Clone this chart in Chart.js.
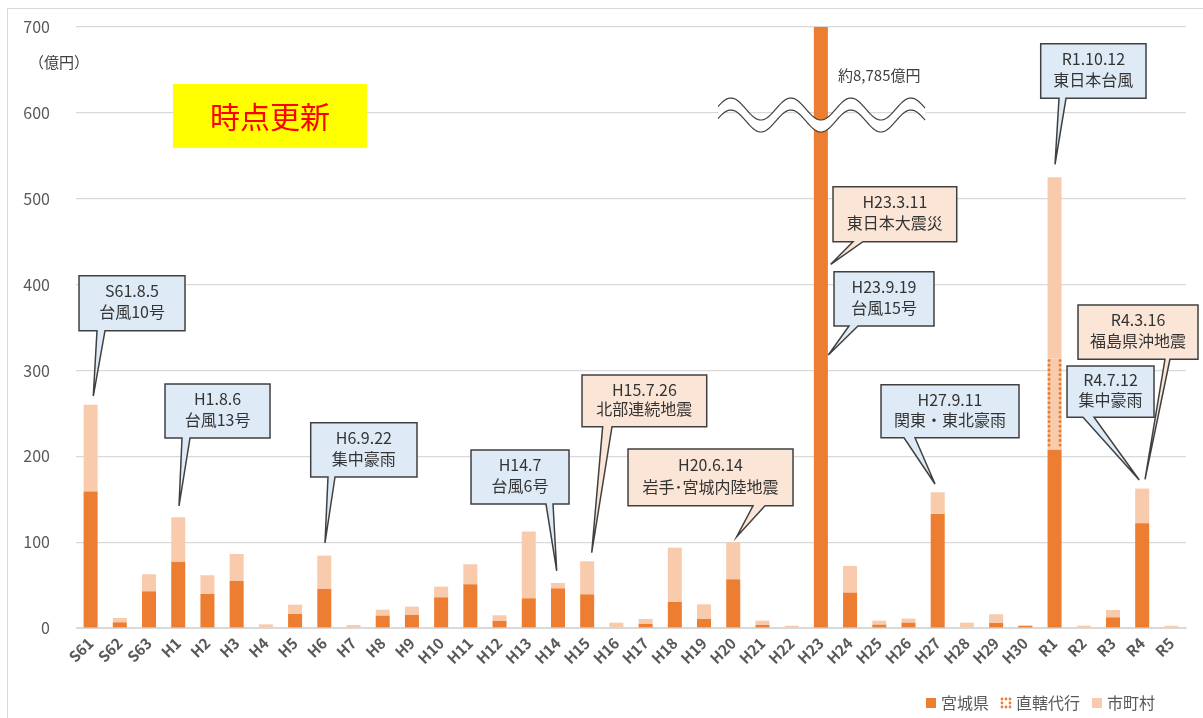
<!DOCTYPE html>
<html lang="ja">
<head>
<meta charset="utf-8">
<title>災害復旧事業費の推移</title>
<script src="https://cdn.jsdelivr.net/npm/chart.js@4.4.1/dist/chart.umd.min.js"></script>
<style>
  html, body { margin: 0; padding: 0; background: #fff; }
  #wrap { position: relative; width: 1203px; height: 718px; }
</style>
</head>
<body>
<div id="wrap"><canvas id="myChart"></canvas></div>
<script>
// 年度
const nendo = ["S61", "S62", "S63",
  "H1", "H2", "H3", "H4", "H5", "H6", "H7", "H8", "H9", "H10",
  "H11", "H12", "H13", "H14", "H15", "H16", "H17", "H18", "H19", "H20",
  "H21", "H22", "H23", "H24", "H25", "H26", "H27", "H28", "H29", "H30",
  "R1", "R2", "R3", "R4", "R5"]

// 被害額（億円）
const miyagi = [159, 6.6, 42.7,
  77.3, 39.6, 54.8, 0, 16.3, 45.5, 0, 14.4, 15.2, 35.7,
  50.9, 8.2, 34.6, 46.2, 39.2, 0, 4.7, 30.3, 10.5, 56.7,
  3.5, 0, 8785, 41.2, 3.9, 6.2, 132.9, 0, 5.8, 2.7,
  207.5, 0, 12.4, 122, 0]
const chokkatsu = [0, 0, 0,
  0, 0, 0, 0, 0, 0, 0, 0, 0, 0,
  0, 0, 0, 0, 0, 0, 0, 0, 0, 0,
  0, 0, 0, 0, 0, 0, 0, 0, 0, 0,
  106.5, 0, 0, 0, 0]
const shichoson = [101, 5.1, 19.9,
  51.7, 21.8, 31.4, 4.3, 10.9, 38.8, 3.5, 7, 9.7, 12.5,
  23.3, 6.6, 77.7, 6.2, 38.5, 6.2, 5.8, 63.3, 17.1, 43.2,
  5.1, 2.7, 0, 31.1, 4.7, 4.7, 25.2, 6.2, 10.2, 0,
  211, 2.7, 8.6, 40.4, 2.5]

const yTicks = [0, 100, 200, 300, 400, 500, 600, 700]

// 吹き出し（x は年度の位置、y は億円の目盛で指定）
const callouts = [
  { lines: ["S61.8.5", "台風10号"], fill: "#DEEBF7", box: [-0.397, 3.232, 410.3, 346.3], base: [0.219, 0.493], tip: [0.092, 270.2] },
  { lines: ["H1.8.6", "台風13号"], fill: "#DEEBF7", box: [2.547, 6.142, 284.2, 221.3], base: [3.129, 3.403], tip: [3.026, 142.1] },
  { lines: ["H6.9.22", "集中豪雨"], fill: "#DEEBF7", box: [7.535, 11.174, 239.1, 175.9], base: [8.127, 8.367], tip: [8.024, 99.0] },
  { lines: ["H14.7", "台風6号"], fill: "#DEEBF7", box: [13.023, 16.378, 207.3, 144.4], base: [15.59, 15.83], tip: [15.957, 66.4] },
  { lines: ["H15.7.26", "北部連続地震"], fill: "#FBE5D6", box: [16.823, 21.092, 294.7, 234.5], base: [17.53, 17.85], tip: [17.155, 87.7] },
  { lines: ["H20.6.14", "岩手･宮城内陸地震"], fill: "#FBE5D6", box: [18.398, 24.047, 208.5, 142.4], base: [22.677, 23.088], tip: [22.119, 106.3] },
  { lines: ["H23.3.11", "東日本大震災"], fill: "#FBE5D6", box: [25.416, 29.651, 514.0, 449.9], base: [26.1, 26.44], tip: [25.337, 423.6] },
  { lines: ["H23.9.19", "台風15号"], fill: "#DEEBF7", box: [25.45, 28.873, 415.0, 351.7], base: [25.963, 26.271], tip: [25.255, 318.0] },
  { lines: ["H27.9.11", "関東・東北豪雨"], fill: "#DEEBF7", box: [27.059, 31.783, 283.4, 221.6], base: [27.846, 28.223], tip: [28.908, 167.7] },
  { lines: ["R1.10.12", "東日本台風"], fill: "#DEEBF7", box: [32.526, 36.131, 680.5, 616.9], base: [33.153, 33.392], tip: [33.016, 540.1] },
  { lines: ["R4.3.16", "福島県沖地震"], fill: "#FBE5D6", box: [33.803, 37.911, 376.2, 313.0], base: [36.78, 36.95], tip: [36.097, 173.2] },
  { lines: ["R4.7.12", "集中豪雨"], fill: "#DEEBF7", box: [33.427, 36.405, 305.1, 245.4], base: [33.974, 34.351], tip: [35.9, 172.4] }
]

const DARK = "#ED7D31"
const LIGHT = "#F8CBAD"
const FONT = "'Noto Sans CJK JP', 'Noto Sans', sans-serif"

//直轄代行の点線（バーの左右の縁）
const dottedEdges = {
  id: 'dottedEdges',
  afterDatasetsDraw(chart) {
    const ctx = chart.ctx
    const meta = chart.getDatasetMeta(1)
    ctx.save()
    ctx.strokeStyle = DARK
    ctx.lineWidth = 3
    ctx.lineCap = 'round'
    ctx.setLineDash([0.1, 4.6])
    meta.data.forEach(el => {
      const p = el.getProps(['x', 'y', 'base', 'width'], true)
      if (Math.abs(p.base - p.y) < 1) return
      const l = p.x - p.width / 2 + 1.5, r = p.x + p.width / 2 - 1.5
      ctx.beginPath()
      ctx.moveTo(l, p.y + 2); ctx.lineTo(l, p.base - 2)
      ctx.moveTo(r, p.y + 2); ctx.lineTo(r, p.base - 2)
      ctx.stroke()
    })
    ctx.restore()
  }
}

//吹き出し、注記、凡例
const notes = {
  id: 'notes',
  beforeDraw(chart) {
    const ctx = chart.ctx
    ctx.save()
    ctx.strokeStyle = '#d9d9d9'
    ctx.lineWidth = 1
    ctx.strokeRect(7.5, 8.5, 1210, 720)
    ctx.restore()
  },
  afterDatasetsDraw(chart) {
    const ctx = chart.ctx
    const x = chart.scales.x, y = chart.scales.y
    const area = chart.chartArea
    ctx.save()

    // 波線（H23の省略）
    const x0 = x.getPixelForValue(21.48), x1 = x.getPixelForValue(28.6)
    const xc = x.getPixelForValue(25), cy = y.getPixelForValue(597.5)
    const wave = (px, off) => cy + off + 11 * Math.cos(2 * Math.PI * (px - xc) / 60)
    ctx.beginPath()
    for (let px = x0; px <= x1; px += 1) ctx.lineTo(px, wave(px, -6))
    for (let px = x1; px >= x0; px -= 1) ctx.lineTo(px, wave(px, 6))
    ctx.closePath()
    ctx.fillStyle = '#fff'
    ctx.fill()
    ctx.strokeStyle = '#404040'
    ctx.lineWidth = 1.2
    ;[-6, 6].forEach(off => {
      ctx.beginPath()
      for (let px = x0; px <= x1; px += 1) ctx.lineTo(px, wave(px, off))
      ctx.stroke()
    })

    ctx.fillStyle = '#404040'
    ctx.font = '15px ' + FONT
    ctx.textAlign = 'left'
    ctx.textBaseline = 'middle'
    ctx.fillText('約8,785億円', x.getPixelForValue(25.587), y.getPixelForValue(644))

    // 単位
    ctx.fillStyle = '#404040'
    ctx.font = '15px ' + FONT
    ctx.fillText('（億円）', area.left - 47, y.getPixelForValue(659))

    // 時点更新
    const yl = x.getPixelForValue(2.82), yr = x.getPixelForValue(9.46)
    const yt = y.getPixelForValue(633.6), yb = y.getPixelForValue(559)
    ctx.fillStyle = '#FFFF00'
    ctx.fillRect(yl, yt, yr - yl, yb - yt)
    ctx.fillStyle = '#FF0000'
    ctx.font = '30px ' + FONT
    ctx.textAlign = 'center'
    ctx.fillText('時点更新', (yl + yr) / 2, (yt + yb) / 2 + 1)

    // 吹き出し
    callouts.forEach(c => {
      const L = x.getPixelForValue(c.box[0]), R = x.getPixelForValue(c.box[1])
      const T = y.getPixelForValue(c.box[2]), B = y.getPixelForValue(c.box[3])
      const b1 = x.getPixelForValue(c.base[0]), b2 = x.getPixelForValue(c.base[1])
      const tx = x.getPixelForValue(c.tip[0]), ty = y.getPixelForValue(c.tip[1])
      ctx.beginPath()
      ctx.moveTo(L, T); ctx.lineTo(R, T); ctx.lineTo(R, B)
      ctx.lineTo(b2, B); ctx.lineTo(tx, ty); ctx.lineTo(b1, B)
      ctx.lineTo(L, B); ctx.closePath()
      ctx.fillStyle = c.fill
      ctx.fill()
      ctx.strokeStyle = '#404040'
      ctx.lineWidth = 1.5
      ctx.lineJoin = 'miter'
      ctx.stroke()
      ctx.fillStyle = '#333333'
      ctx.font = '16px ' + FONT
      ctx.textAlign = 'center'
      ctx.fillText(c.lines[0], (L + R) / 2, T + (B - T) * 0.28)
      ctx.fillText(c.lines[1], (L + R) / 2, T + (B - T) * 0.66)
    })
    ctx.restore()
  },
  afterDraw(chart) {
    // 凡例（右下）
    const ctx = chart.ctx
    const ds = chart.data.datasets
    ctx.save()
    ctx.font = '16px ' + FONT
    ctx.textBaseline = 'middle'
    ctx.textAlign = 'left'
    const cy = 703
    const widths = ds.map(d => ctx.measureText(d.label).width)
    const total = widths.reduce((a, b) => a + b, 0) + ds.length * 15 + (ds.length - 1) * 12
    let px = chart.chartArea.right - 31 - total
    ds.forEach((d, i) => {
      if (i === 1) {
        ctx.fillStyle = DARK
        ;[[0, 0], [5, 0], [10, 0], [0, 5], [10, 5], [0, 10], [5, 10], [10, 10]].forEach(p => {
          ctx.beginPath()
          ctx.arc(px + 1 + p[0] * 0.8, cy - 4 + p[1] * 0.8, 1.4, 0, Math.PI * 2)
          ctx.fill()
        })
      } else {
        ctx.fillStyle = d.backgroundColor
        ctx.fillRect(px, cy - 5, 10, 10)
      }
      ctx.fillStyle = '#595959'
      ctx.fillText(d.label, px + 15, cy)
      px += 15 + widths[i] + 12
    })
    ctx.restore()
  }
}

const ctx = document.getElementById('myChart')

new Chart(ctx, {
  type: 'bar',
  data: {
    labels: nendo,
    datasets: [
      { label: '宮城県', data: miyagi, backgroundColor: DARK },
      { label: '直轄代行', data: chokkatsu, backgroundColor: LIGHT },
      { label: '市町村', data: shichoson, backgroundColor: LIGHT }
    ]
  },
  options: {
    responsive: true,
    maintainAspectRatio: false,
    animation: false,
    devicePixelRatio: 1,
    layout: { padding: { top: 27, right: 17, left: 0, bottom: 0 } },
    datasets: {
      bar: { categoryPercentage: 1, barPercentage: 0.48, borderWidth: 0 }
    },
    scales: {
      x: {
        stacked: true,
        grid: { display: false, drawTicks: false },
        border: { color: '#d9d9d9', width: 1 },
        ticks: {
          autoSkip: false,
          minRotation: 45,
          maxRotation: 45,
          padding: 6,
          color: '#595959',
          font: { family: FONT, size: 15, weight: '600' }
        },
        afterFit: s => { s.height = 90 }
      },
      y: {
        stacked: true,
        min: 0,
        max: 700,
        afterBuildTicks: s => { s.ticks = yTicks.map(v => ({ value: v })) },
        grid: { color: '#d9d9d9', lineWidth: 1.2, drawTicks: false },
        border: { display: false },
        ticks: {
          padding: 26,
          color: '#595959',
          font: { family: FONT, size: 16 }
        },
        // 目盛ラベルの余白が上端を押し下げないようにする
        afterFit: s => { s.width = 76; s.paddingTop = 10; s.paddingBottom = 10 }
      }
    },
    plugins: {
      legend: { display: false },
      tooltip: { enabled: false }
    }
  },
  plugins: [dottedEdges, notes]
})
</script>
</body>
</html>
